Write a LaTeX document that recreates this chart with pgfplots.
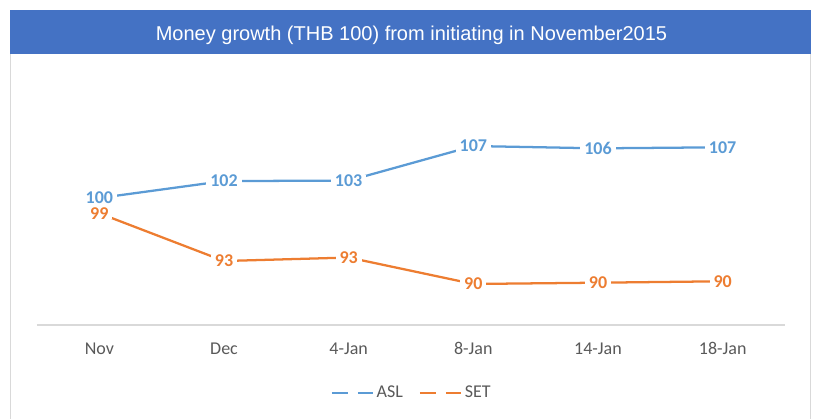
\documentclass[border=0pt]{standalone}
\usepackage{pgfplots}
\pgfplotsset{compat=1.18}
\usepackage{fontspec}
\setmainfont{Carlito}
\newfontfamily\titlefont{Liberation Sans}
\definecolor{aslblue}{HTML}{5B9BD5}
\definecolor{setorange}{HTML}{ED7D31}
\definecolor{barblue}{HTML}{4472C4}
\definecolor{txtgray}{HTML}{595959}
\definecolor{linegray}{HTML}{D9D9D9}

\pgfplotstableread{
x y lab
0 100.00 100
1 102.28 102
2 102.33 103
3 106.98 107
4 106.67 106
5 106.81 107
}\asldata
\pgfplotstableread{
x y lab
0 97.95 99
1 91.54 93
2 92.01 93
3 88.46 90
4 88.63 90
5 88.82 90
}\setdata

\begin{document}
\begin{tikzpicture}
\path[use as bounding box] (0,0) rectangle (612.75pt,314.25pt);
\begin{scope}[x=0.75pt,y=0.75pt]
\fill[barblue] (10,409.5) rectangle (811,365);
\draw[linegray, line width=1.1pt] (10.5,365) -- (10.5,0);
\draw[linegray, line width=1.1pt] (810.5,365) -- (810.5,0);
\node[text=white, font=\titlefont\fontsize{15}{18}\selectfont] at (411.5,383.3) {Money growth (THB 100) from initiating in November2015};
\end{scope}
\begin{axis}[
  at={(27.75pt,70.5pt)}, anchor=south west,
  scale only axis, width=561pt, height=172.5pt,
  xmin=-0.5, xmax=5.5, ymin=82.95, ymax=113.83,
  clip=false,
  axis y line=none, ytick=\empty,
  axis x line=bottom,
  x axis line style={-, draw=linegray, line width=0.9pt},
  xtick={0,...,5},
  xticklabels={Nov,Dec,4-Jan,8-Jan,14-Jan,18-Jan},
  major tick length=0pt,
  xtick style={draw=none},
  xticklabel style={anchor=base, yshift=-22.3pt, font=\fontsize{13.5}{16}\selectfont, text=txtgray},
  legend style={at={(0.5013,-0.2957)}, anchor=center, draw=none, fill=none,
    legend columns=2, font=\fontsize{13.5}{16}\selectfont, text=txtgray,
    /tikz/every even column/.append style={column sep=10pt},
    inner sep=0pt, nodes={inner xsep=2pt}},
  legend image code/.code={\draw[#1, line width=1.7pt] (0pt,0pt) -- (12pt,0pt) (19.5pt,0pt) -- (30.75pt,0pt);},
  every node near coord/.append style={anchor=center, fill=white, inner xsep=3pt, inner ysep=0pt, font=\bfseries\fontsize{13.5}{16}\selectfont},
]
\addplot[aslblue, line width=1.7pt, nodes near coords, point meta=explicit symbolic] table[x=x, y=y, meta=lab] {\asldata};
\addlegendentry{ASL}
\addplot[setorange, line width=1.7pt, nodes near coords, point meta=explicit symbolic] table[x=x, y=y, meta=lab] {\setdata};
\addlegendentry{SET}
\end{axis}
\end{tikzpicture}
\end{document}
